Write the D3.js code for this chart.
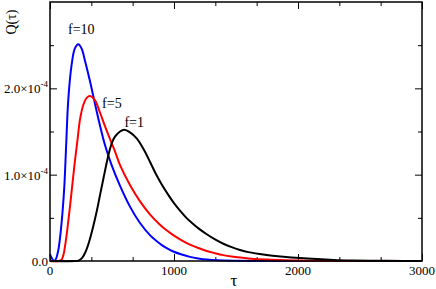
<!DOCTYPE html>
<html>
<head>
<meta charset="utf-8">
<script src="https://cdn.jsdelivr.net/npm/d3@7"></script>
<style>
  html, body { margin: 0; padding: 0; background: #fff; }
  svg { display: block; }
</style>
</head>
<body>
<svg id="chart" width="436" height="289" font-family="'Liberation Serif', 'Times New Roman', serif"></svg>
<script>
// ---- data (Q in units of 1e-4) ----
const tau10 = [0, 15, 35, 50, 60, 70, 85, 100, 115, 130, 148, 175, 200, 228, 255, 282, 323, 363, 403, 444, 497, 565, 645, 726, 806, 887, 927, 994, 1062, 1129, 1196, 1264, 1350, 1500, 1700, 2000, 3000];
const q10   = [0.08, 0.03, 0.0, 0.03, 0.08, 0.15, 0.32, 0.55, 0.85, 1.33, 1.88, 2.28, 2.46, 2.51, 2.46, 2.32, 2.08, 1.82, 1.57, 1.34, 1.11, 0.87, 0.63, 0.44, 0.30, 0.20, 0.16, 0.11, 0.075, 0.048, 0.03, 0.017, 0.008, 0.003, 0.001, 0, 0];

const tau5 = [0, 70, 90, 99, 110, 121, 134, 161, 185, 202, 220, 242, 269, 296, 323, 363, 403, 444, 490, 524, 565, 645, 726, 806, 887, 927, 994, 1062, 1129, 1196, 1264, 1331, 1398, 1465, 1532, 1600, 1747, 1900, 2100, 2400, 3000];
const q5   = [0, 0, 0.01, 0.03, 0.08, 0.17, 0.30, 0.63, 0.95, 1.17, 1.38, 1.64, 1.81, 1.89, 1.91, 1.86, 1.72, 1.56, 1.39, 1.27, 1.11, 0.88, 0.69, 0.54, 0.42, 0.37, 0.30, 0.24, 0.19, 0.15, 0.115, 0.09, 0.068, 0.052, 0.04, 0.03, 0.016, 0.008, 0.003, 0.001, 0];

const tau1 = [0, 200, 230, 261, 288, 315, 345, 376, 403, 430, 470, 500, 524, 565, 597, 645, 699, 753, 806, 850, 900, 950, 1000, 1050, 1100, 1150, 1200, 1264, 1331, 1398, 1465, 1532, 1600, 1734, 1882, 2016, 2151, 2285, 2450, 2650, 2850, 3000];
const q1   = [0, 0, 0.005, 0.04, 0.11, 0.22, 0.38, 0.57, 0.76, 0.95, 1.22, 1.37, 1.44, 1.50, 1.52, 1.49, 1.42, 1.30, 1.15, 1.02, 0.89, 0.775, 0.67, 0.58, 0.50, 0.435, 0.375, 0.31, 0.25, 0.20, 0.16, 0.128, 0.103, 0.073, 0.05, 0.034, 0.022, 0.013, 0.007, 0.003, 0.001, 0];

const seriesNames  = ["f=10", "f=5", "f=1"];
const seriesColors = ["#0000ff", "#ff0000", "#000000"];

const xTickValues = [0, 1000, 2000, 3000];
const xTickLabels = ["0", "1000", "2000", "3000"];
const yTickValues = [0, 1, 2];
const yTickMantissa = ["0.0", "1.0\u00d710", "2.0\u00d710"];
const yTickExponent = ["", "-4", "-4"];

// ---- layout ----
const svg = d3.select("#chart");
const L = 50, R = 422, T = 2, B = 261;

const x = d3.scaleLinear().domain([0, 3000]).range([L, R]);
const y = d3.scaleLinear().domain([0, 3]).range([B, T]);

const xMinor = d3.range(0, 3001, 1000 / 3).filter(v => !xTickValues.some(t => Math.abs(t - v) < 1));
const yMinor = [0.5, 1.5, 2.5];

function tickAxis(axis, g) { g.call(axis); g.select(".domain").remove(); g.selectAll("line").attr("stroke", "#000").attr("stroke-width", 1); }

tickAxis(d3.axisBottom(x).tickValues(xTickValues).tickSize(-7).tickFormat(""),
  svg.append("g").attr("transform", `translate(0,${B})`));
tickAxis(d3.axisBottom(x).tickValues(xMinor).tickSize(-4).tickFormat(""),
  svg.append("g").attr("transform", `translate(0,${B})`));
tickAxis(d3.axisTop(x).tickValues(xTickValues).tickSize(-7).tickFormat(""),
  svg.append("g").attr("transform", `translate(0,${T})`));
tickAxis(d3.axisTop(x).tickValues(xMinor).tickSize(-4).tickFormat(""),
  svg.append("g").attr("transform", `translate(0,${T})`));
tickAxis(d3.axisLeft(y).tickValues(yTickValues).tickSize(-7).tickFormat(""),
  svg.append("g").attr("transform", `translate(${L},0)`));
tickAxis(d3.axisLeft(y).tickValues(yMinor).tickSize(-4).tickFormat(""),
  svg.append("g").attr("transform", `translate(${L},0)`));
tickAxis(d3.axisRight(y).tickValues(yTickValues).tickSize(-7).tickFormat(""),
  svg.append("g").attr("transform", `translate(${R},0)`));
tickAxis(d3.axisRight(y).tickValues(yMinor).tickSize(-4).tickFormat(""),
  svg.append("g").attr("transform", `translate(${R},0)`));

// curves
const line = d3.line().x(d => x(d[0])).y(d => y(Math.max(0, d[1]))).curve(d3.curveCatmullRom.alpha(0.5));
const series = [[tau10, q10], [tau5, q5], [tau1, q1]];
series.forEach((s, i) => {
  const pts = s[0].map((t, j) => [t, s[1][j]]);
  svg.append("path").datum(pts)
    .attr("d", line)
    .attr("fill", "none")
    .attr("stroke", seriesColors[i])
    .attr("stroke-width", 2)
    .attr("stroke-linejoin", "round");
});

// frame
svg.append("rect").attr("x", L).attr("y", T).attr("width", R - L).attr("height", B - T)
  .attr("fill", "none").attr("stroke", "#000").attr("stroke-width", 1.5);

// x tick labels
svg.append("g").selectAll("text").data(xTickValues).join("text")
  .attr("x", d => x(d)).attr("y", B + 14)
  .attr("text-anchor", "middle").attr("font-size", 13)
  .text((d, i) => xTickLabels[i]);

// y tick labels
const yl = svg.append("g").selectAll("text").data(yTickValues).join("text")
  .attr("x", L - 2).attr("y", d => y(d) + 5)
  .attr("text-anchor", "end").attr("font-size", 13);
yl.append("tspan").text((d, i) => yTickMantissa[i]);
yl.append("tspan").attr("dy", -6).attr("font-size", 9).text((d, i) => yTickExponent[i]);

// axis titles
svg.append("text").attr("x", (L + R) / 2 - 2).attr("y", 286)
  .attr("text-anchor", "middle").attr("font-size", 17).text("\u03c4");
svg.append("text").attr("transform", "translate(16,22) rotate(-90)")
  .attr("text-anchor", "middle").attr("font-size", 14).text("Q(\u03c4)");

// series labels
const labelTau = [228, 420, 600];
const labelQ   = [2.6, 1.77, 1.55];
svg.append("g").selectAll("text").data(seriesNames).join("text")
  .attr("x", (d, i) => x(labelTau[i]) + (i === 0 ? 3 : 0))
  .attr("y", (d, i) => y(labelQ[i]) + (i === 0 ? -3 : 0))
  .attr("text-anchor", (d, i) => i === 0 ? "middle" : "start")
  .attr("font-size", 14)
  .text(d => d);
</script>
</body>
</html>
